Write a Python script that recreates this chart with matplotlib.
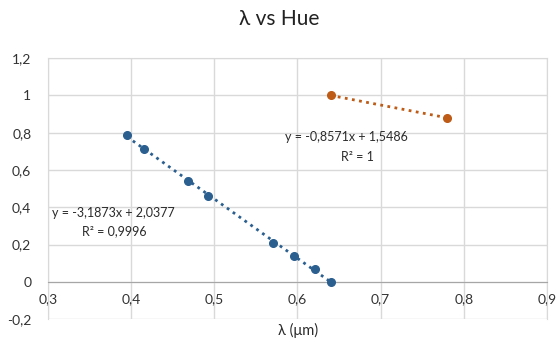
import matplotlib.pyplot as plt
import numpy as np

plt.rcParams['font.family'] = ['Lato', 'DejaVu Sans']

# data
blue_x = [0.395, 0.416, 0.469, 0.492, 0.571, 0.596, 0.621, 0.640]
blue_y = [0.790, 0.710, 0.540, 0.460, 0.210, 0.140, 0.070, 0.000]
orange_x = [0.640, 0.780]
orange_y = [1.000, 0.880]

x_ticks = [0.3, 0.4, 0.5, 0.6, 0.7, 0.8, 0.9]
y_ticks = [-0.2, 0, 0.2, 0.4, 0.6, 0.8, 1, 1.2]

blue_c = '#2a5f8f'
orange_c = '#bd5b17'
txt_c = '#2b2b2b'


def comma(v):
    s = '{:g}'.format(v)
    return s.replace('.', ',')


fig = plt.figure(figsize=(5.58, 3.42), dpi=100)
ax = fig.add_axes([0.086, 0.067, 0.894, 0.763])

# trendlines (least squares fits)
for xs, ys, c in [(blue_x, blue_y, blue_c), (orange_x, orange_y, orange_c)]:
    m, b = np.polyfit(xs, ys, 1)
    xx = np.array([min(xs), max(xs)])
    ax.plot(xx, m * xx + b, color=c, linestyle=(0, (1, 1.6)), linewidth=2.0, zorder=2)

ax.plot(blue_x, blue_y, 'o', color=blue_c, markersize=5.5, zorder=3)
ax.plot(orange_x, orange_y, 'o', color=orange_c, markersize=5.5, zorder=3)

ax.set_xlim(0.3, 0.9)
ax.set_ylim(-0.2, 1.2)
ax.set_xticks(x_ticks)
ax.set_yticks(y_ticks)
ax.set_xticklabels([comma(v) for v in x_ticks])
ax.set_yticklabels([comma(v) for v in y_ticks])
ax.grid(True, color='#d9d9d9', linewidth=1)
ax.set_axisbelow(True)

for s in ['top', 'right', 'left']:
    ax.spines[s].set_color('#d9d9d9')
ax.spines['bottom'].set_position(('data', 0))
ax.spines['bottom'].set_color('#a6a6a6')
ax.tick_params(axis='both', length=0, labelsize=10, colors='#333333')
ax.tick_params(axis='x', pad=8)
ax.tick_params(axis='y', pad=12)

ax.text(0.305, 0.368, 'y = -3,1873x + 2,0377', fontsize=9, color=txt_c, va='center', ha='left')
ax.text(0.38, 0.272, 'R² = 0,9996', fontsize=9, color=txt_c, va='center', ha='center')
ax.text(0.659, 0.778, 'y = -0,8571x + 1,5486', fontsize=9, color=txt_c, va='center', ha='center')
ax.text(0.672, 0.672, 'R² = 1', fontsize=9, color=txt_c, va='center', ha='center')

fig.text(0.535, 0.035, 'λ (μm)', fontsize=10.5, color=txt_c, ha='center', va='center')
fig.text(0.5, 0.945, 'λ vs Hue', fontsize=15, color='#222222', ha='center', va='center')

plt.savefig('out.png', dpi=100)
